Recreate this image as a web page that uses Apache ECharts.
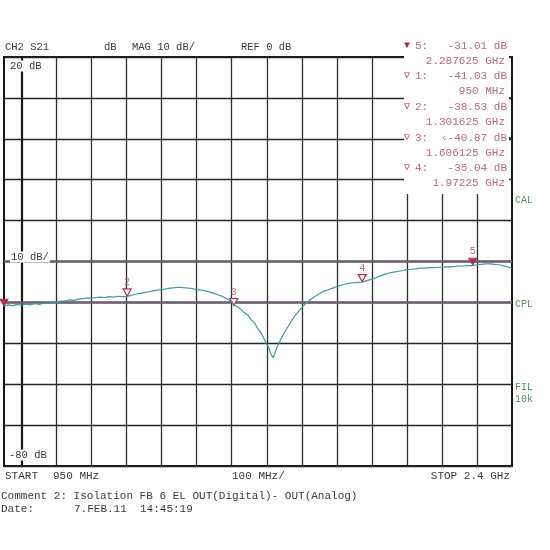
<!DOCTYPE html>
<html>
<head>
<meta charset="utf-8">
<script src="https://cdn.jsdelivr.net/npm/echarts@6/dist/echarts.min.js"></script>
<style>
html,body{margin:0;padding:0;background:#fff;}
#c{width:550px;height:550px;}
</style>
</head>
<body>
<div id="c"></div>
<script>
// ---- data ----
const freqMHz = [950,962,975,988,1000,1012,1025,1038,1050,1062,1075,1088,1100,1112,1125,1138,1150,1162,1175,1188,1200,1212,1225,1238,1250,1262,1275,1288,1301.6,1312,1325,1338,1350,1362,1375,1388,1400,1412,1425,1438,1450,1462,1475,1488,1500,1512,1525,1538,1550,1562,1575,1588,1600,1606.1,1615,1625,1635,1645,1655,1665,1675,1685,1695,1705,1712,1718,1724,1730,1740,1750,1760,1770,1780,1790,1800,1812,1825,1838,1850,1862,1875,1888,1900,1912,1925,1938,1950,1962,1972.25,1988,2000,2012,2025,2038,2050,2062,2075,2088,2100,2112,2125,2138,2150,2162,2175,2188,2200,2212,2225,2238,2250,2262,2275,2287.6,2300,2312,2325,2338,2350,2362,2375,2388,2400];
const s21dB = [-40.9,-40.6,-40.8,-40.5,-40.7,-40.4,-40.6,-40.3,-40.5,-40.2,-40.0,-39.9,-40.1,-39.7,-39.6,-39.4,-39.5,-39.2,-39.1,-38.9,-39.0,-38.8,-38.7,-38.8,-38.6,-38.7,-38.5,-38.6,-38.53,-38.3,-38.0,-37.8,-37.6,-37.4,-37.2,-37.0,-36.9,-36.7,-36.5,-36.4,-36.3,-36.4,-36.5,-36.6,-36.9,-37.0,-37.2,-37.5,-37.8,-38.2,-38.6,-39.2,-39.9,-40.5,-41.0,-41.6,-42.5,-43.0,-44.2,-45.0,-46.5,-47.6,-49.4,-51.0,-52.6,-53.5,-52.2,-50.8,-49.0,-47.5,-46.0,-44.6,-43.3,-42.3,-41.2,-40.2,-39.3,-38.5,-37.9,-37.3,-36.9,-36.5,-36.1,-35.8,-35.5,-35.3,-35.2,-35.1,-35.04,-34.6,-34.3,-33.9,-33.5,-33.1,-32.8,-32.6,-32.4,-32.2,-32.0,-31.9,-31.8,-31.6,-31.6,-31.5,-31.5,-31.4,-31.4,-31.3,-31.3,-31.2,-31.1,-31.1,-31.0,-31.01,-30.8,-30.7,-30.6,-30.6,-30.7,-30.8,-31.0,-31.3,-31.7];

const markerNames = ['1','2','3','4','5'];
const markerFreqMHz = [950, 1301.625, 1606.125, 1972.25, 2287.625];
const markerDb = [-41.03, -38.53, -40.87, -35.04, -31.01];

const readoutIds = ['5','1','2','3','4'];
const readoutDb = ['-31.01 dB','-41.03 dB','-38.53 dB','\u2039-40.87 dB','-35.04 dB'];
const readoutFreq = ['2.287625 GHz','950 MHz','1.301625 GHz','1.606125 GHz','1.97225 GHz'];

const gridFreqMHz = [1000,1100,1200,1300,1400,1500,1600,1700,1800,1900,2000,2100,2200,2300];
const refLinesDb = [-30, -40];
const yMin = -80, yMax = 20, yStep = 10;
const xStart = 950, xStop = 2400;

// ---- chart ----
const chart = echarts.init(document.getElementById('c'), null, {renderer:'canvas'});
const FONT = 'Liberation Mono, DejaVu Sans Mono, monospace';
const pink = '#b46a80';
const dark = '#3a3a3a';
const green = '#4f8f5f';

const vLines = gridFreqMHz.map(f => ({
  xAxis: f,
  lineStyle: f === 1000 ? {color:'#1a1a1a', width:2.2, type:'solid'} : {color:'#2e2e2e', width:1.3, type:'solid'}
}));
const hLines = refLinesDb.map(v => ({yAxis: v, lineStyle:{color:'#6e6272', width:2.6, type:'solid'}}));

const mPoints = markerNames.map((n, i) => {
  const filled = (n === '1' || n === '5');
  return {
    name: n,
    coord: [markerFreqMHz[i], markerDb[i]],
    symbol: 'triangle',
    symbolSize: [8, 7],
    symbolRotate: 180,
    symbolOffset: [0, -4],
    itemStyle: filled ? {color:'#b0304f', borderColor:'#b0304f', borderWidth:1}
                      : {color:'#ffffff', borderColor:'#b0304f', borderWidth:1.2},
    label: {show: n !== '1', formatter: n, position:'top', distance:1, color: pink, fontSize: 10, fontFamily: FONT}
  };
});

const texts = [];
function T(x, y, s, opt) {
  opt = opt || {};
  texts.push({
    type:'text', x:x, y:y, z:110,
    style: Object.assign({
      text: s, font: (opt.size||10.5) + 'px ' + FONT,
      fill: opt.color || dark, align: opt.align || 'left', verticalAlign:'middle'
    }, opt.bg ? {backgroundColor:'#fff', padding:[0,1]} : {})
  });
}
// header
T(5, 47, 'CH2 S21');
T(104, 47, 'dB');
T(132, 47, 'MAG 10 dB/');
T(241, 47, 'REF 0 dB');
// left scale labels
T(9, 66, '20 dB', {bg:true});
T(10, 257, '10 dB/', {bg:true});
T(8, 455, '-80 dB', {bg:true});
// marker readout
const rowY = [46, 76, 107, 138, 168];
readoutIds.forEach((id, i) => {
  const y = rowY[i];
  T(404, y - 1, id === '5' ? '\u25BC' : '\u25BD', {color:'#a82a48', size: 10});
  T(415, y, id + ':', {color: pink, size: 11});
  T(507, y, readoutDb[i], {color: pink, size: 11, align:'right'});
  T(505, y + 15, readoutFreq[i], {color: pink, size: 11, align:'right'});
});
// right labels
T(515, 200, 'CAL', {color: green, size: 10});
T(515, 304, 'CPL', {color: green, size: 10});
T(515, 387, 'FIL', {color: green, size: 10});
T(515, 399, '10k', {color: green, size: 10});
// bottom
T(5, 476, 'START', {size: 11});
T(53, 476, '950 MHz', {size: 11});
T(232, 476, '100 MHz/', {size: 11});
T(510, 476, 'STOP 2.4 GHz', {size: 11, align:'right'});
T(1, 496, 'Comment 2: Isolation FB 6 EL OUT(Digital)- OUT(Analog)', {size: 11});
T(1, 509, 'Date:', {size: 11});
T(74, 509, '7.FEB.11  14:45:19', {size: 11});

const option = {
  animation: false,
  backgroundColor: '#ffffff',
  grid: {left:4, top:57, width:508, height:409, show:true, borderColor:'#151515', borderWidth:2, backgroundColor:'transparent'},
  xAxis: {
    type:'value', min:xStart, max:xStop,
    axisLine:{show:false}, axisTick:{show:false}, axisLabel:{show:false}, splitLine:{show:false}
  },
  yAxis: {
    type:'value', min:yMin, max:yMax, interval:yStep,
    axisLine:{show:false}, axisTick:{show:false}, axisLabel:{show:false},
    splitLine:{show:true, lineStyle:{color:'#262626', width:1.3}}
  },
  series: [{
    type:'line',
    data: freqMHz.map((f, i) => [f, s21dB[i]]),
    showSymbol:false, symbol:'none',
    lineStyle:{color:'#3f9aa2', width:1.2},
    z: 5,
    markLine: {
      silent:true, symbol:['none','none'], label:{show:false}, animation:false,
      data: vLines.concat(hLines), z: 1
    },
    markPoint: {data: mPoints, animation:false}
  }],
  graphic: [
    {type:'rect', z:100, shape:{x:404, y:36, width:105, height:158}, style:{fill:'#ffffff'}},
    {type:'line', z:105, shape:{x1:509, y1:98, x2:513, y2:98}, style:{stroke:'#151515', lineWidth:1.5}},
    {type:'line', z:105, shape:{x1:509, y1:138, x2:513, y2:138}, style:{stroke:'#151515', lineWidth:1.5}}
  ].concat(texts)
};
chart.setOption(option);
</script>
</body>
</html>
